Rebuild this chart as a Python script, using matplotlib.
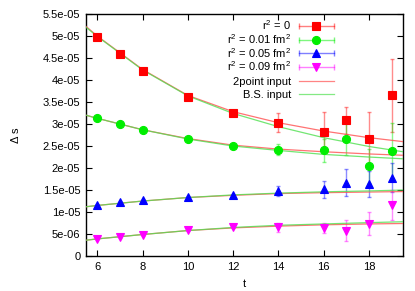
import numpy as np
import matplotlib
matplotlib.use("Agg")
import matplotlib.pyplot as plt
from matplotlib.ticker import FuncFormatter

plt.rcParams['font.family'] = ['Liberation Sans', 'DejaVu Sans']
plt.rcParams['mathtext.fontset'] = 'custom'
plt.rcParams['mathtext.rm'] = 'Liberation Sans'

# data points (t, delta s, error)
t = [6, 7, 8, 10, 12, 14, 16, 17, 18, 19]
ds_r0 = [4.97e-5, 4.60e-5, 4.20e-5, 3.61e-5, 3.25e-5, 3.03e-5, 2.83e-5, 3.08e-5, 2.65e-5, 3.65e-5]
err_r0 = [2e-7, 2e-7, 2.5e-7, 3e-7, 5e-7, 2.2e-6, 4.4e-6, 3.0e-6, 6.2e-6, 8.3e-6]
ds_r01 = [3.13e-5, 3.00e-5, 2.86e-5, 2.67e-5, 2.49e-5, 2.42e-5, 2.40e-5, 2.66e-5, 2.04e-5, 2.39e-5]
err_r01 = [2e-7, 2e-7, 2e-7, 3e-7, 4e-7, 1.3e-6, 2.6e-6, 3.7e-6, 3.9e-6, 6.3e-6]
ds_r05 = [1.17e-5, 1.23e-5, 1.27e-5, 1.34e-5, 1.38e-5, 1.48e-5, 1.52e-5, 1.67e-5, 1.64e-5, 1.78e-5]
err_r05 = [2e-7, 2e-7, 2e-7, 3e-7, 4e-7, 1.2e-6, 1.9e-6, 3.0e-6, 2.9e-6, 3.3e-6]
ds_r09 = [3.8e-6, 4.4e-6, 4.8e-6, 5.9e-6, 6.7e-6, 6.5e-6, 6.4e-6, 5.8e-6, 7.4e-6, 1.16e-5]
err_r09 = [2e-7, 2e-7, 2e-7, 3e-7, 4e-7, 1.0e-6, 1.2e-6, 2.3e-6, 2.5e-6, 3.5e-6]

# fit curves (units of 1e-5)
t_fit = [5.5, 6, 8, 10, 12, 14, 16, 18, 19.5]
fit2p_r0 = [5.22, 5.00, 4.24, 3.65, 3.28, 3.03, 2.84, 2.69, 2.60]
fitbs_r0 = [5.20, 4.99, 4.23, 3.64, 3.24, 2.94, 2.69, 2.49, 2.37]
fit2p_r01 = [3.20, 3.13, 2.87, 2.67, 2.52, 2.43, 2.37, 2.32, 2.29]
fitbs_r01 = [3.20, 3.13, 2.87, 2.66, 2.50, 2.40, 2.31, 2.25, 2.21]
fit2p_r05 = [1.12, 1.15, 1.25, 1.33, 1.38, 1.42, 1.44, 1.455, 1.465]
fitbs_r05 = [1.12, 1.15, 1.25, 1.33, 1.39, 1.43, 1.46, 1.48, 1.50]
fit2p_r09 = [0.36, 0.39, 0.49, 0.58, 0.64, 0.68, 0.71, 0.73, 0.74]
fitbs_r09 = [0.36, 0.39, 0.49, 0.58, 0.65, 0.70, 0.73, 0.76, 0.78]

labels = ["r$^2$ = 0", "r$^2$ = 0.01 fm$^2$", "r$^2$ = 0.05 fm$^2$", "r$^2$ = 0.09 fm$^2$"]
fit_labels = ["2point input", "B.S. input"]

fig = plt.figure(figsize=(4.15, 2.91), dpi=100)
ax = fig.add_axes([0.207, 0.120, 0.764, 0.832])

series = [
    (ds_r0, err_r0, 'red', 's', 5.3),
    (ds_r01, err_r01, '#00ee00', 'o', 5.8),
    (ds_r05, err_r05, 'blue', '^', 5.8),
    (ds_r09, err_r09, 'magenta', 'v', 5.8),
]
for y, e, c, m, ms in series:
    ax.errorbar(t, y, yerr=e, fmt='none', ecolor=c, alpha=0.45, elinewidth=1.0,
                capsize=1.4, capthick=1.0, zorder=2)
    ax.plot(t, y, ls='none', marker=m, ms=ms, color=c, mec=c, mew=0.8, zorder=4)

fit_colors = ['#ff5050', '#50e050']
fits = [(fit2p_r0, fitbs_r0), (fit2p_r01, fitbs_r01),
        (fit2p_r05, fitbs_r05), (fit2p_r09, fitbs_r09)]
for pair in fits:
    for f, c in zip(pair, fit_colors):
        ax.plot(t_fit, np.array(f) * 1e-5, color=c, lw=0.9, alpha=0.8, zorder=3)

# gnuplot style key: right aligned text, sample on the right
tx, x0, x1 = 0.647, 0.672, 0.782
y0, dy = 0.950, 0.0562
tr = ax.transAxes
for i, (lab, (y, e, c, m, ms)) in enumerate(zip(labels, series)):
    yy = y0 - i * dy
    ax.text(tx, yy - 0.018, lab, transform=tr, ha='right', va='baseline', fontsize=8)
    ax.plot([x0, x1], [yy, yy], transform=tr, color=c, alpha=0.5, lw=1.0,
            clip_on=False)
    ax.plot([x0, x1], [yy, yy], transform=tr, ls='none', marker='|', ms=4,
            mew=1.0, color=c, alpha=0.5, clip_on=False)
    ax.plot([(x0 + x1) / 2], [yy], transform=tr, ls='none', marker=m, ms=ms,
            color=c, mec=c, mew=0.8, clip_on=False, zorder=5)
for j, (lab, c) in enumerate(zip(fit_labels, fit_colors)):
    yy = y0 - (4 + j) * dy
    ax.text(tx, yy - 0.018, lab, transform=tr, ha='right', va='baseline', fontsize=8)
    ax.plot([x0, x1], [yy, yy], transform=tr, color=c, alpha=0.7, lw=0.9)

ax.set_xlim(5.5, 19.5)
ax.set_ylim(0, 5.5e-5)
ax.set_xticks([6, 8, 10, 12, 14, 16, 18])
ax.set_yticks(np.arange(0, 12) * 5e-6)
ax.yaxis.set_major_formatter(FuncFormatter(lambda v, p: '%g' % v))
ax.tick_params(direction='in', top=True, right=True, length=4, width=0.8,
               labelsize=8, pad=4, colors='black')
for s in ax.spines.values():
    s.set_linewidth(1.0)
ax.set_xlabel('t', fontsize=8, labelpad=5)
ax.set_ylabel('Δ s', fontsize=8, labelpad=16)

fig.savefig('out.png', dpi=100)
